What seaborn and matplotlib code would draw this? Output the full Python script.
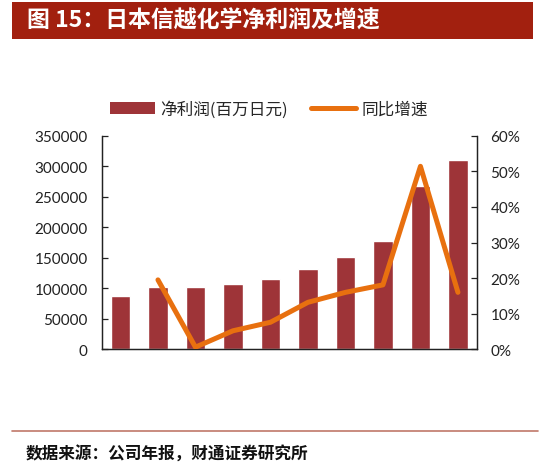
import matplotlib
matplotlib.use("Agg")
import matplotlib.pyplot as plt
import seaborn as sns
import pandas as pd
import numpy as np
from matplotlib.patches import Patch, Rectangle
from matplotlib.lines import Line2D

# data
years = ["2009", "2010", "2011", "2012", "2013", "2014", "2015", "2016", "2017", "2018"]
profit = [86600, 102300, 102900, 107800, 116000, 131200, 151300, 178100, 267300, 311000]
growth = [np.nan, 19.5, 0.6, 5.2, 7.6, 13.2, 16.0, 18.1, 51.4, 16.0]

bar_color = "#9E3438"
line_color = "#E8700F"
band_color = "#A2200F"

sns.set_style("white")
plt.rcParams['font.family'] = ['Lato', 'Noto Sans CJK SC', 'DejaVu Sans']

df = pd.DataFrame({"year": years, "profit": profit, "growth": growth, "pos": range(len(years))})

fig = plt.figure(figsize=(5.39, 4.77), dpi=100)
ax = fig.add_axes([0.1887, 0.2656, 0.6957, 0.4478])

sns.barplot(data=df, x="year", y="profit", color=bar_color, width=0.51,
            saturation=1, ax=ax, zorder=2)
ax.set_xlim(-0.5, 9.5)
ax.set_ylim(0, 350000)
ax.set_yticks(range(0, 350001, 50000))
ax.set_xlabel("")
ax.set_ylabel("")

ax2 = ax.twinx()
sns.lineplot(data=df.dropna(), x="pos", y="growth", color=line_color, linewidth=3.6,
             ax=ax2, zorder=3)
ax2.set_ylim(0, 60)
ax2.set_yticks(range(0, 61, 10))
ax2.set_yticklabels([f"{v}%" for v in range(0, 61, 10)])
ax2.set_xlim(-0.5, 9.5)
ax2.set_xlabel("")
ax2.set_ylabel("")

for a in (ax, ax2):
    for s in ("left", "right", "bottom"):
        a.spines[s].set_visible(True)
        a.spines[s].set_color("#222222")
        a.spines[s].set_linewidth(0.9)
    a.spines["top"].set_visible(False)
    a.tick_params(axis="y", direction="in", length=4, width=0.9, color="#222222",
                  labelsize=11, labelcolor="#222222", pad=10)

ax.tick_params(axis="x", which="major", length=0, labelsize=11, labelcolor="#222222", pad=8)
ax.set_xticks(np.arange(0.5, 9, 1), minor=True)
ax.tick_params(axis="x", which="minor", direction="in", length=4, width=0.9, color="#222222")
ax2.tick_params(axis="x", which="both", length=0)
ax2.set_xticks([])

# legend above the plot
handles = [Patch(facecolor=bar_color, edgecolor="none"),
           Line2D([0], [0], color=line_color, linewidth=3.6)]
fig.legend(handles, ["净利润(百万日元)", "同比增速"], loc="center", bbox_to_anchor=(0.499, 0.77),
           ncol=2, frameon=False, handlelength=2.7, handleheight=0.75,
           columnspacing=1.4, handletextpad=0.3,
           prop={"family": ["Noto Sans CJK SC", "DejaVu Sans"], "size": 12})

# title band
fig.patches.append(Rectangle((0.022, 0.916), 0.967, 0.078, transform=fig.transFigure,
                             facecolor=band_color, edgecolor="none"))
fig.text(0.05, 0.955, "图 15：日本信越化学净利润及增速", color="white", fontsize=16.5,
         fontweight="bold", va="center", ha="left",
         family=["Noto Sans CJK SC", "DejaVu Sans"])

# bottom rule and source
fig.add_artist(Line2D([0.022, 0.998], [0.094, 0.094], transform=fig.transFigure,
                      color="#C0786A", linewidth=1.2))
fig.text(0.047, 0.046, "数据来源：公司年报，财通证券研究所", color="#111111", fontsize=12,
         fontweight="bold", va="center", ha="left",
         family=["Noto Sans CJK SC", "DejaVu Sans"])

fig.savefig("out.png", dpi=100)
